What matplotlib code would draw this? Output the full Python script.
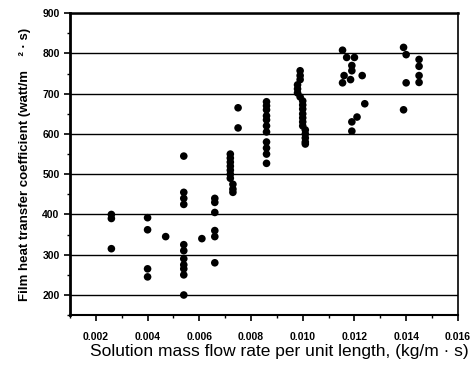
import matplotlib
matplotlib.use('Agg')
import matplotlib.pyplot as plt
import numpy as np
from matplotlib.ticker import MultipleLocator

plt.rcParams['font.family'] = ['Liberation Sans', 'DejaVu Sans']

# measured points, grouped by column of flow rate
flow_rate = [
    0.0026, 0.0026, 0.0026,
    0.0040, 0.0040, 0.0040, 0.0040,
    0.0047,
    0.0054, 0.0054, 0.0054, 0.0054, 0.0054, 0.0054, 0.0054, 0.0054, 0.0054, 0.0054, 0.0054,
    0.0061,
    0.0066, 0.0066, 0.0066, 0.0066, 0.0066, 0.0066,
    0.0072, 0.0072, 0.0072, 0.0072, 0.0072, 0.0072, 0.0072, 0.0073, 0.0073, 0.0073,
    0.0075, 0.0075,
    0.0086, 0.0086, 0.0086, 0.0086, 0.0086, 0.0086, 0.0086, 0.0086, 0.0086, 0.0086, 0.0086,
    0.0099, 0.0099, 0.0099, 0.0098, 0.0098, 0.0098, 0.0099, 0.0100, 0.0100, 0.0100,
    0.0100, 0.0100, 0.0100, 0.0100, 0.0101, 0.0101, 0.0101, 0.0101, 0.0101,
    0.01154, 0.0117, 0.0120, 0.0119, 0.0119, 0.0116, 0.01154, 0.01185, 0.0123,
    0.0124, 0.0121, 0.0119, 0.0119,
    0.0139, 0.0140, 0.0140, 0.0139,
    0.0145, 0.0145, 0.0145, 0.0145,
]
htc = [
    400, 390, 315,
    392, 362, 265, 245,
    345,
    545, 455, 440, 425, 325, 310, 290, 275, 265, 250, 200,
    340,
    440, 430, 405, 360, 345, 280,
    550, 540, 530, 520, 510, 500, 490, 475, 463, 455,
    665, 615,
    680, 670, 660, 645, 635, 620, 605, 580, 565, 550, 527,
    757, 745, 735, 722, 712, 702, 692, 682, 672, 662,
    650, 640, 630, 620, 610, 600, 590, 580, 575,
    808, 790, 790, 770, 757, 745, 727, 735, 745,
    675, 642, 630, 607,
    815, 797, 727, 660,
    785, 768, 745, 728,
]

fig = plt.figure(figsize=(4.73, 3.66), dpi=100)
ax = fig.add_axes([0.148, 0.139, 0.82, 0.825])

ax.scatter(flow_rate, htc, s=30, c='k', edgecolors='none', zorder=3)

ax.set_xlim(0.001, 0.016)
ax.set_ylim(150, 900)

ax.xaxis.set_minor_locator(MultipleLocator(0.001))
ax.yaxis.set_minor_locator(MultipleLocator(50))

xt = np.arange(0.002, 0.0161, 0.002)
ax.set_xticks(xt)
ax.set_xticklabels(['%.3f' % v for v in xt])
ax.set_yticks(np.arange(200, 901, 100))

for yv in range(200, 901, 100):
    ax.axhline(yv, color='k', lw=1.0, zorder=1)

ax.tick_params(axis='both', which='major', length=4, width=1.2, labelsize=7.5, direction='out')
ax.tick_params(axis='both', which='minor', length=2.5, width=1.0, direction='out')
ax.tick_params(axis='x', pad=8)
for lbl in ax.get_xticklabels() + ax.get_yticklabels():
    lbl.set_fontweight('bold')

ax.spines['left'].set_linewidth(2.0)
ax.spines['top'].set_linewidth(1.8)
ax.spines['bottom'].set_linewidth(1.5)
ax.spines['right'].set_linewidth(1.2)

ax.set_xlabel(u'Solution mass flow rate per unit length, (kg/m \u00b7 s)', fontsize=12.5)
ax.xaxis.set_label_coords(0.54, -0.095)
ax.set_ylabel(u'Film heat transfer coefficient (watt/m    \u00b2 \u00b7 s)', fontsize=9.5,
              fontweight='bold', labelpad=8)

plt.savefig('out.png', dpi=100)
